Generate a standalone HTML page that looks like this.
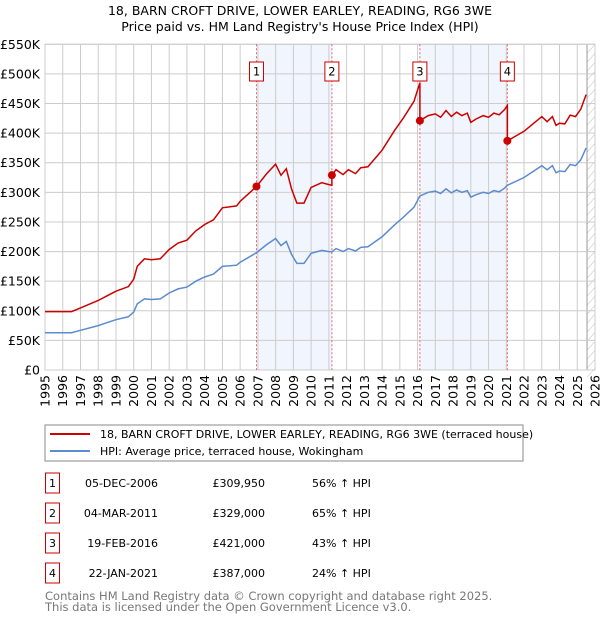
<!DOCTYPE html>
<html><head><meta charset="utf-8"><style>
body{margin:0;background:#fff;width:600px;height:620px;overflow:hidden;font-family:"DejaVu Sans","Liberation Sans",sans-serif}
svg{display:block}
</style></head><body>
<svg id="c" width="600" height="620" xmlns="http://www.w3.org/2000/svg">
<text x="300" y="15" text-anchor="middle" font-size="12.5" fill="#000">18, BARN CROFT DRIVE, LOWER EARLEY, READING, RG6 3WE</text>
<text x="300" y="31" text-anchor="middle" font-size="12.5" fill="#000">Price paid vs. HM Land Registry's House Price Index (HPI)</text>
<g id="plot"></g>
<rect x="45" y="425" width="478" height="36" fill="#fff" stroke="#888"/>
<line x1="50" y1="434" x2="90" y2="434" stroke="#cc0000" stroke-width="2"/>
<text x="100" y="438" font-size="11">18, BARN CROFT DRIVE, LOWER EARLEY, READING, RG6 3WE (terraced house)</text>
<line x1="50" y1="451" x2="90" y2="451" stroke="#5b8bd0" stroke-width="2"/>
<text x="100" y="455" font-size="11">HPI: Average price, terraced house, Wokingham</text>
<g id="table" font-size="11"></g>
<text x="45" y="600" font-size="11.5" fill="#777">Contains HM Land Registry data © Crown copyright and database right 2025.</text>
<text x="45" y="611" font-size="11.5" fill="#777">This data is licensed under the Open Government Licence v3.0.</text>
</svg>
<script>
const hpiYears=[1995,1996,1996.5,1997,1998,1998.5,1999,1999.7,2000,2000.2,2000.6,2001,2001.5,2002,2002.5,2003,2003.5,2004,2004.5,2005,2005.8,2006,2006.92,2007.5,2008,2008.3,2008.6,2008.9,2009.2,2009.6,2010,2010.6,2011,2011.17,2011.4,2011.8,2012.1,2012.5,2012.8,2013.2,2014,2014.7,2015.2,2015.8,2016.13,2016.6,2017,2017.3,2017.6,2017.9,2018.2,2018.5,2018.8,2019,2019.3,2019.7,2020,2020.3,2020.6,2020.9,2021.06,2021.5,2022,2022.5,2023,2023.3,2023.6,2023.8,2024,2024.3,2024.6,2024.9,2025.2,2025.5];
const hpiValues=[63,63,63,67,75,80,85,90,98,112,120,119,120,130,137,140,150,157,162,175,177,182,198,212,222,210,217,195,180,180,197,202,200,199.4,205,200,205,201,207,208,225,245,258,275,294,300,302,298,306,299,304,300,303,292,296,300,298,303,301,307,312,318,325,335,345,338,345,333,336,335,347,345,355,375];
const saleYears=[2006.92,2011.17,2016.13,2021.06];
const salePrices=[309.95,329,421,387];
const saleDates=["05-DEC-2006","04-MAR-2011","19-FEB-2016","22-JAN-2021"];
const salePct=["56%","65%","43%","24%"];
const yTicks=[0,50,100,150,200,250,300,350,400,450,500,550];
const yTickLabels=["£0","£50K","£100K","£150K","£200K","£250K","£300K","£350K","£400K","£450K","£500K","£550K"];
const NS="http://www.w3.org/2000/svg";
const X0=45,X1=595,Y0=370,Y1=44.3;
const xs=y=>X0+(y-1995)/31*(X1-X0);
const ys=v=>Y0-v/550*(Y0-Y1);
function mk(t,a,p){const e=document.createElementNS(NS,t);for(const k in a)e.setAttribute(k,a[k]);p.appendChild(e);return e;}
const P=document.getElementById('plot');
function hpiAt(t){for(let i=1;i<hpiYears.length;i++){if(t<=hpiYears[i]){const f=(t-hpiYears[i-1])/(hpiYears[i]-hpiYears[i-1]);return hpiValues[i-1]+f*(hpiValues[i]-hpiValues[i-1]);}}return hpiValues[hpiValues.length-1];}
[[0,1],[2,3]].forEach((pr,i)=>{
const r=mk('rect',{x:xs(saleYears[pr[0]]),y:Y1,width:xs(saleYears[pr[1]])-xs(saleYears[pr[1]-1]),height:Y0-Y1,fill:'#f1f5fd'},P);


});
const hx=xs(2025.55);
const hz=mk('rect',{x:hx,y:Y1,width:X1-hx,height:Y0-Y1,fill:'#fff'},P);


for(let yy=Y1;yy<Y0;yy+=9){mk('line',{x1:hx,y1:yy+9,x2:X1,y2:yy,stroke:'#ccc','stroke-width':0.7},P);}
mk('line',{x1:hx,y1:Y1,x2:hx,y2:Y0,stroke:'#999','stroke-width':1},P);
for(let y=1995;y<=2026;y++){
const g=mk('line',{x1:xs(y),y1:Y1,x2:xs(y),y2:Y0,stroke:'#ccc','stroke-width':1},P);


const t=mk('text',{x:0,y:0,transform:`translate(${xs(y)+4.5},${Y0+5}) rotate(-90)`,'text-anchor':'end','font-size':12.5},P);
t.textContent=y;


}
yTicks.forEach((v,i)=>{
const g=mk('line',{x1:X0,y1:ys(v),x2:X1,y2:ys(v),stroke:'#ccc','stroke-width':1},P);


const t=mk('text',{x:X0-5,y:ys(v)+4.5,'text-anchor':'end','font-size':12.5},P);
t.textContent=yTickLabels[i];


});
mk('rect',{x:X0,y:Y1,width:X1-X0,height:Y0-Y1,fill:'none',stroke:'#ccc'},P);
saleYears.forEach((s,i)=>{
const l=mk('line',{x1:xs(s),y1:Y1,x2:xs(s),y2:Y0,stroke:'#e06666','stroke-dasharray':'2,2','stroke-width':1},P);


const b=mk('rect',{x:xs(s)-7,y:62,width:14,height:19,fill:'#fff',stroke:'#cc0000'},P);


const t=mk('text',{x:xs(s),y:75.5,'text-anchor':'middle','font-size':11.5},P);
t.textContent=i+1;


});
let d='';hpiYears.forEach((y,i)=>{d+=(i?'L':'M')+xs(y).toFixed(1)+','+ys(hpiValues[i]).toFixed(1);});
const hl=mk('path',{d,fill:'none',stroke:'#5b8bd0','stroke-width':1.5},P);


const ratios=salePrices.map((p,i)=>p/hpiAt(saleYears[i]));
let pd='';
hpiYears.forEach((y,i)=>{
let k=0;for(let j=0;j<saleYears.length;j++)if(y>=saleYears[j])k=j;
const v=hpiValues[i]*ratios[k];
for(let j=1;j<saleYears.length;j++){ if(i>0&&hpiYears[i-1]<saleYears[j]&&y>=saleYears[j]){pd+='L'+xs(saleYears[j]).toFixed(1)+','+ys(hpiAt(saleYears[j])*ratios[j-1]).toFixed(1);} }
pd+=(i?'L':'M')+xs(y).toFixed(1)+','+ys(v).toFixed(1);
});
const pl=mk('path',{d:pd,fill:'none',stroke:'#cc0000','stroke-width':1.5},P);


saleYears.forEach((s,i)=>{
const c=mk('circle',{cx:xs(s),cy:ys(salePrices[i]),r:4,fill:'#cc0000'},P);


});
const T=document.getElementById('table');
const prices=["£309,950","£329,000","£421,000","£387,000"];
saleDates.forEach((dt,i)=>{
const cy=483+i*30;
const b=mk('rect',{x:45.5,y:cy-10,width:14,height:20,fill:'#fff',stroke:'#cc0000'},T);


const n=mk('text',{x:52.5,y:cy+4,'text-anchor':'middle'},T);n.textContent=i+1;


const a=mk('text',{x:158,y:cy+4,'text-anchor':'end'},T);a.textContent=dt;


const p=mk('text',{x:265,y:cy+4,'text-anchor':'end'},T);p.textContent=prices[i];


const h=mk('text',{x:312,y:cy+4},T);h.textContent=salePct[i]+' \u2191 HPI';


});
</script>
</body></html>
